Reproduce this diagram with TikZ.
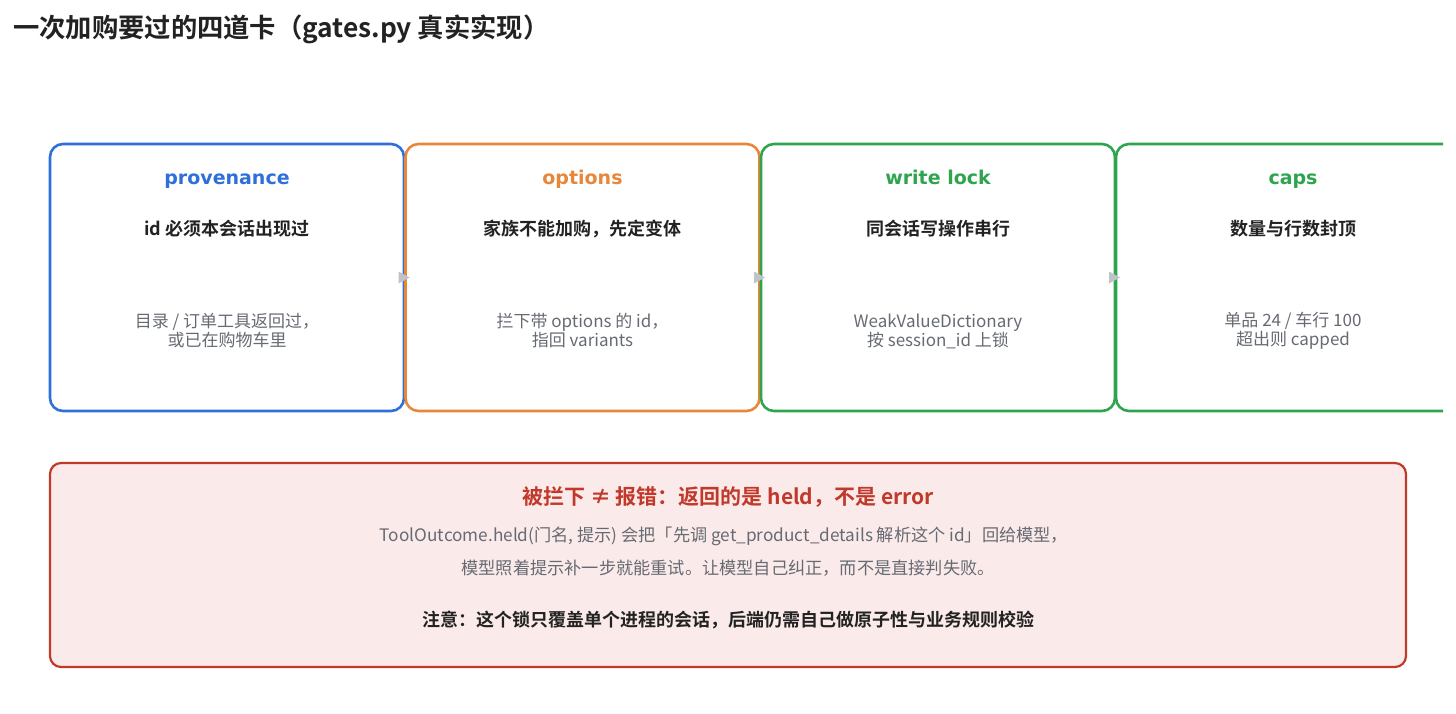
\documentclass[tikz,border=0pt]{standalone}
\usepackage{fontspec}
\setmainfont{Noto Sans CJK SC}[BoldFont={Noto Sans CJK SC Bold}]
\newfontfamily\gatefont{DejaVu Sans}[BoldFont={DejaVu Sans Bold}]
\usetikzlibrary{arrows.meta}
\definecolor{cblue}{HTML}{2E6FD9}
\definecolor{corange}{HTML}{E8863A}
\definecolor{cgreen}{HTML}{2EA44F}
\definecolor{cred}{HTML}{C0392B}
\definecolor{cfill}{HTML}{FBEAEA}
\definecolor{cgray}{HTML}{666A72}
\definecolor{cdark}{HTML}{222222}
\definecolor{carrow}{HTML}{BFC3C8}
\tikzset{
  gatebox/.style={draw, line width=2.6pt, rounded corners=13pt, minimum width=354pt, minimum height=267pt, outer sep=0pt, inner sep=0pt},
  gatetitle/.style={font=\gatefont\bfseries\fontsize{19}{23}\selectfont, inner sep=0pt, text height=14pt, text depth=4pt},
  gatesub/.style={font=\bfseries\fontsize{18}{22}\selectfont, text=cdark, inner sep=0pt},
  gatebody/.style={font=\fontsize{17}{19}\selectfont, text=cgray, align=center, inner sep=0pt},
  flow/.style={draw=carrow, line width=0.01pt, -{Triangle[length=11pt,width=12pt,fill=carrow,line width=0pt]}},
  notetext/.style={font=\fontsize{17.2}{20}\selectfont, text=cgray, inner sep=0pt},
}
\begin{document}
\begin{tikzpicture}[x=1pt,y=-1pt]
\useasboundingbox (0,0) rectangle (1456,714);
\node[anchor=west, font=\bfseries\fontsize{26.3}{30}\selectfont, text=cdark, inner sep=0pt] (title) at (13,29) {一次加购要过的四道卡（gates.py 真实实现）};

\begin{scope}
\clip (0,0) rectangle (1443,714);
\node[gatebox, draw=cblue] (g1) at (227,277.5) {};
\node[gatebox, draw=corange] (g2) at (582.5,277.5) {};
\node[gatebox, draw=cgreen] (g3) at (938,277.5) {};
\node[gatebox, draw=cgreen] (g4) at (1293,277.5) {};
\end{scope}

\node[gatetitle, text=cblue] (t1) at (227,180) {provenance};
\node[gatesub] (s1) at (227,229) {id 必须本会话出现过};
\node[gatebody] (b1) at (227,331) {目录 / 订单工具返回过，\\ 或已在购物车里};

\node[gatetitle, text=corange] (t2) at (582.5,180) {options};
\node[gatesub] (s2) at (582.5,229) {家族不能加购，先定变体};
\node[gatebody] (b2) at (582.5,331) {拦下带 options 的 id，\\ 指回 variants};

\node[gatetitle, text=cgreen] (t3) at (938,180) {write lock};
\node[gatesub] (s3) at (938,229) {同会话写操作串行};
\node[gatebody] (b3) at (938,331) {WeakValueDictionary\\ 按 session\_id 上锁};

\node[gatetitle, text=cgreen] (t4) at (1293,180) {caps};
\node[gatesub] (s4) at (1293,229) {数量与行数封顶};
\node[gatebody] (b4) at (1293,331) {单品 24 / 车行 100\\ 超出则 capped};

\draw[flow] ([xshift=-8pt]g1.east) -- ([xshift=4pt]g2.west);
\draw[flow] ([xshift=-8pt]g2.east) -- ([xshift=4pt]g3.west);
\draw[flow] ([xshift=-8pt]g3.east) -- ([xshift=4pt]g4.west);

\node[draw=cred, fill=cfill, line width=2.2pt, rounded corners=11pt, minimum width=1356pt, minimum height=204pt, inner sep=0pt] (note) at (728,565) {};
\node[font=\bfseries\fontsize{21}{25}\selectfont, text=cred, inner sep=0pt] (nt) at (728,497) {被拦下 ≠ 报错：返回的是 held，不是 error};
\node[notetext] (n1) at (724,536) {ToolOutcome.held(门名, 提示) 会把「先调 get\_product\_details 解析这个 id」回给模型，};
\node[notetext] (n2) at (728,568) {模型照着提示补一步就能重试。让模型自己纠正，而不是直接判失败。};
\node[font=\bfseries\fontsize{18}{21}\selectfont, text=cdark, inner sep=0pt] (n3) at (728,620) {注意：这个锁只覆盖单个进程的会话，后端仍需自己做原子性与业务规则校验};
\end{tikzpicture}
\end{document}
